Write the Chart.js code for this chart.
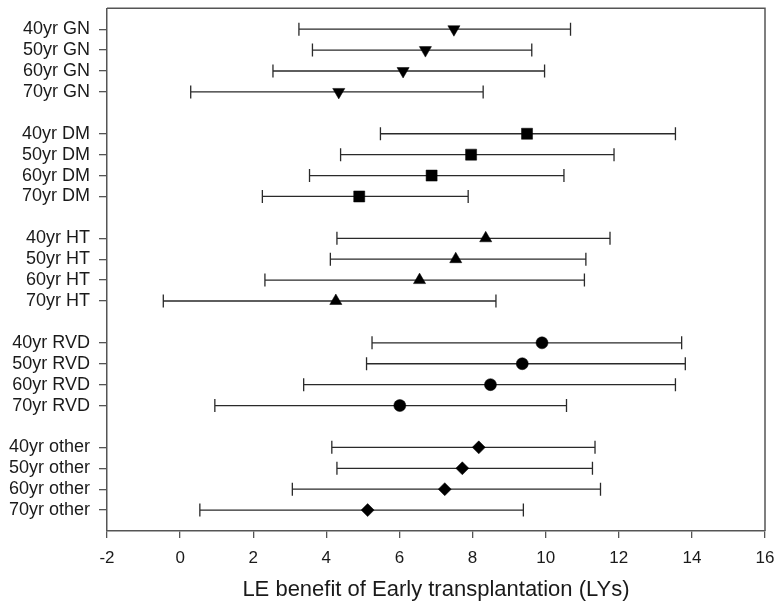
<!DOCTYPE html>
<html>
<head>
<meta charset="utf-8">
<script src="https://cdn.jsdelivr.net/npm/chart.js@4/dist/chart.umd.min.js"></script>
<style>
  html, body { margin: 0; padding: 0; background: #fff; }
</style>
</head>
<body>
<canvas id="c" width="775" height="603"></canvas>
<script>
// Kategoriler
const ages = ['40yr', '50yr', '60yr', '70yr'];
const groups = ['GN', 'DM', 'HT', 'RVD', 'other'];

// LE benefit (LYs): ortalama, alt ve üst sınır
const gnMean = [7.49, 6.71, 6.10, 4.34];
const gnLow = [3.25, 3.62, 2.54, 0.29];
const gnHigh = [10.68, 9.62, 9.97, 8.29];

const dmMean = [9.49, 7.96, 6.88, 4.90];
const dmLow = [5.48, 4.39, 3.54, 2.25];
const dmHigh = [13.55, 11.87, 10.50, 7.88];

const htMean = [8.36, 7.54, 6.55, 4.26];
const htLow = [4.29, 4.11, 2.32, -0.46];
const htHigh = [11.76, 11.10, 11.06, 8.64];

const rvdMean = [9.90, 9.36, 8.49, 6.01];
const rvdLow = [5.25, 5.10, 3.38, 0.95];
const rvdHigh = [13.72, 13.82, 13.55, 10.57];

const otherMean = [8.17, 7.72, 7.24, 5.13];
const otherLow = [4.15, 4.29, 3.07, 0.54];
const otherHigh = [11.35, 11.28, 11.50, 9.39];

// X ekseni
const xMin = -2;
const xMax = 16;
const xStep = 2;

const means = [gnMean, dmMean, htMean, rvdMean, otherMean];
const lows = [gnLow, dmLow, htLow, rvdLow, otherLow];
const highs = [gnHigh, dmHigh, htHigh, rvdHigh, otherHigh];

// Nokta stilleri
const markers = [
    { style: 'triangle', rotation: 180, radius: 7 },
    { style: 'rect', rotation: 0, radius: 7.8 },
    { style: 'triangle', rotation: 0, radius: 7 },
    { style: 'circle', rotation: 0, radius: 6 },
    { style: 'rectRot', rotation: 0, radius: 6.5 }
];

// Satır konumları (gruplar arasında bir boşluk)
const rowPos = [];
const rowLabels = [];
groups.forEach((g, gi) => {
    ages.forEach((a, ai) => {
        rowPos.push(gi * 5 + ai);
        rowLabels.push(a + ' ' + g);
    });
});

const datasets = groups.map((g, gi) => ({
    label: g,
    data: means[gi].map((v, ai) => ({ x: v, y: gi * 5 + ai })),
    lo: lows[gi],
    hi: highs[gi],
    pointStyle: markers[gi].style,
    rotation: markers[gi].rotation,
    pointRadius: markers[gi].radius,
    pointBackgroundColor: '#000',
    pointBorderColor: '#000',
    pointBorderWidth: 0.5,
    showLine: false
}));

// Hata çubukları
const errorBars = {
    id: 'errorBars',
    beforeDatasetsDraw(chart) {
        const ctx = chart.ctx;
        const xs = chart.scales.x;
        const ys = chart.scales.y;
        ctx.save();
        ctx.strokeStyle = '#2a2a2a';
        ctx.lineWidth = 1.3;
        chart.data.datasets.forEach(ds => {
            ds.data.forEach((p, i) => {
                const y = ys.getPixelForValue(p.y);
                const x1 = xs.getPixelForValue(ds.lo[i]);
                const x2 = xs.getPixelForValue(ds.hi[i]);
                ctx.beginPath();
                ctx.moveTo(x1, y);
                ctx.lineTo(x2, y);
                ctx.moveTo(x1, y - 6.5);
                ctx.lineTo(x1, y + 6.5);
                ctx.moveTo(x2, y - 6.5);
                ctx.lineTo(x2, y + 6.5);
                ctx.stroke();
            });
        });
        ctx.restore();
    }
};

// Üst ve sağ çerçeve
const frame = {
    id: 'frame',
    afterDraw(chart) {
        const a = chart.chartArea;
        const ctx = chart.ctx;
        ctx.save();
        ctx.strokeStyle = '#555';
        ctx.lineWidth = 1.5;
        ctx.beginPath();
        ctx.moveTo(a.left, a.top);
        ctx.lineTo(a.right, a.top);
        ctx.lineTo(a.right, a.bottom);
        ctx.stroke();
        ctx.restore();
    }
};

new Chart(document.getElementById('c'), {
    type: 'scatter',
    data: { datasets },
    options: {
        responsive: false,
        animation: false,
        layout: { padding: { left: 0, right: 10, top: 8, bottom: 0 } },
        plugins: {
            legend: { display: false },
            tooltip: { enabled: false }
        },
        scales: {
            x: {
                type: 'linear',
                min: xMin,
                max: xMax,
                ticks: {
                    stepSize: xStep,
                    color: '#1a1a1a',
                    padding: 10,
                    font: { family: 'Liberation Sans, Arial', size: 17 }
                },
                grid: {
                    drawOnChartArea: false,
                    tickLength: 7,
                    color: '#555',
                    lineWidth: 1.3
                },
                border: { display: true, color: '#555', width: 1.5 },
                title: {
                    display: true,
                    text: 'LE benefit of Early transplantation (LYs)',
                    color: '#1a1a1a',
                    font: { family: 'Liberation Sans, Arial', size: 22 },
                    padding: { top: 6, bottom: 0 }
                },
                afterFit(scale) {
                    scale.height = 72;
                    scale.paddingLeft = 0;
                    scale.paddingRight = 0;
                }
            },
            y: {
                type: 'linear',
                min: -1,
                max: 24,
                reverse: true,
                afterBuildTicks(scale) {
                    scale.ticks = rowPos.map(v => ({ value: v }));
                },
                ticks: {
                    autoSkip: false,
                    color: '#1a1a1a',
                    padding: 9,
                    font: { family: 'Liberation Sans, Arial', size: 18 },
                    callback: (v, i) => rowLabels[i]
                },
                grid: {
                    drawOnChartArea: false,
                    tickLength: 8,
                    color: '#555',
                    lineWidth: 1.3
                },
                border: { display: true, color: '#555', width: 1.5 },
                afterFit(scale) {
                    scale.width = 107;
                    scale.paddingTop = 0;
                    scale.paddingBottom = 0;
                }
            }
        }
    },
    plugins: [errorBars, frame]
});
</script>
</body>
</html>
